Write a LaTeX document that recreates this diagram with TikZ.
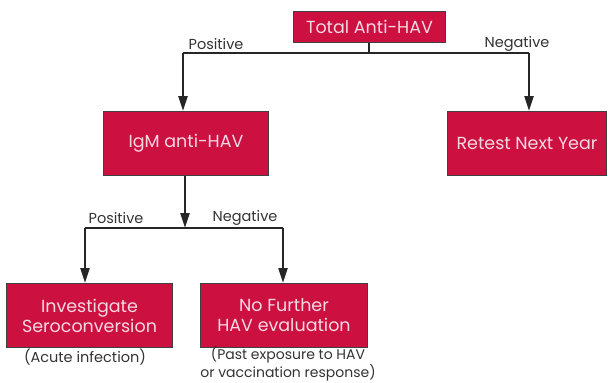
\documentclass[tikz,border=0pt]{standalone}
\usepackage{fontspec}
\setmainfont{Poppins}
\usetikzlibrary{arrows.meta}
\definecolor{boxred}{HTML}{CC1040}
\definecolor{boxtext}{HTML}{F6D8E2}
\definecolor{lbl}{HTML}{333333}
\tikzset{
  redbox/.style={draw=black!75, line width=1pt, fill=boxred, text=boxtext, anchor=north west, inner sep=0pt, align=center, font=\fontsize{17.5}{20}\selectfont},
  conn/.style={line width=2.2pt, black!85},
  arr/.style={conn, -{Triangle[length=15pt,width=9pt]}},
  lab/.style={text=lbl, font=\fontsize{14.5}{17}\selectfont, inner sep=0pt},
}
\begin{document}
\begin{tikzpicture}[x=1pt,y=-1pt]
\useasboundingbox (0,0) rectangle (608,383);
\node[redbox, minimum width=152pt, minimum height=31pt] (top) at (293,11) {Total Anti-HAV};
\node[redbox, minimum width=165pt, minimum height=64pt] (igm) at (103,111) {IgM anti-HAV};
\node[redbox, minimum width=159pt, minimum height=64pt] (ret) at (447,111) {Retest Next Year};
\node[redbox, minimum width=166pt, minimum height=64pt] (inv) at (6,283) {Investigate\\Seroconversion};
\node[redbox, minimum width=167pt, minimum height=64pt] (nof) at (200,283) {No Further\\HAV evaluation};
\coordinate (j1) at (369,53);
\coordinate (j1l) at (183,53);
\coordinate (j1r) at (529,53);
\coordinate (j2) at (185,228);
\coordinate (j2l) at (85,228);
\coordinate (j2r) at (283,228);
\draw[conn] (top.south -| j1) -- (j1);
\draw[conn] (j1l) -- (j1r);
\draw[arr] (j1l) -- (j1l |- igm.north);
\draw[arr] (j1r) -- (j1r |- ret.north);
\draw[arr] (igm.south -| j2) -- (j2);
\draw[conn] (j2l) -- (j2r);
\draw[arr] (j2l) -- (j2l |- inv.north);
\draw[arr] (j2r) -- (j2r |- nof.north);
\node[lab] (p1) at (216,44) {Positive};
\node[lab] (n1) at (517,44) {Negative};
\node[lab] (p2) at (116,218) {Positive};
\node[lab] (n2) at (245,218) {Negative};
\node[lab] (ac) at (85,357) {(Acute infection)};
\node[lab, align=center, font=\fontsize{14}{16}\selectfont] (pe) at (288,364) {(Past exposure to HAV\\or vaccination response)};
\end{tikzpicture}
\end{document}
